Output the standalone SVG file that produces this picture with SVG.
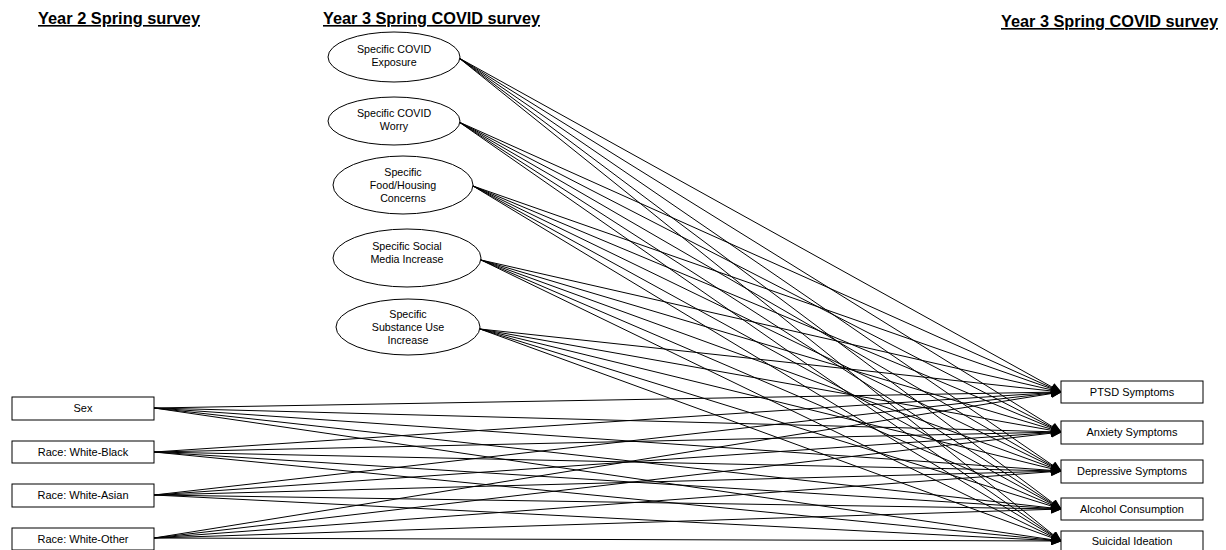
<svg xmlns="http://www.w3.org/2000/svg" width="1226" height="550" viewBox="0 0 1226 550">
<defs>
<marker id="ah" markerWidth="11" markerHeight="9" refX="10" refY="4.5" orient="auto" markerUnits="userSpaceOnUse">
<path d="M0,0 L11,4.5 L0,9 Z" fill="#000"/>
</marker>
<style>
.hdr{font-family:"Liberation Sans",Arial,sans-serif;font-size:16px;font-weight:bold;text-decoration:underline;fill:#000}
.lbl{font-family:"Liberation Sans",Arial,sans-serif;font-size:11px;fill:#000;text-anchor:middle}
.el{font-size:10.7px}
.box{fill:#fff;stroke:#000;stroke-width:1}
.ell{fill:#fff;stroke:#000;stroke-width:1}
.cn line{stroke:#000;stroke-width:1;marker-end:url(#ah)}
</style>
</defs>
<rect width="1226" height="550" fill="#fff"/>
<text class="hdr" x="38" y="24" textLength="162" lengthAdjust="spacingAndGlyphs">Year 2 Spring survey</text>
<text class="hdr" x="323" y="24" textLength="217" lengthAdjust="spacingAndGlyphs">Year 3 Spring COVID survey</text>
<text class="hdr" x="1001" y="27" textLength="217" lengthAdjust="spacingAndGlyphs">Year 3 Spring COVID survey</text>

<g id="connectors" class="cn">
<line x1="459" y1="58" x2="1061" y2="392"/>
<line x1="459" y1="58" x2="1061" y2="432"/>
<line x1="459" y1="58" x2="1061" y2="471"/>
<line x1="459" y1="58" x2="1061" y2="509"/>
<line x1="459" y1="58" x2="1061" y2="541"/>
<line x1="459" y1="122" x2="1061" y2="392"/>
<line x1="459" y1="122" x2="1061" y2="432"/>
<line x1="459" y1="122" x2="1061" y2="471"/>
<line x1="459" y1="122" x2="1061" y2="509"/>
<line x1="459" y1="122" x2="1061" y2="541"/>
<line x1="473" y1="186" x2="1061" y2="392"/>
<line x1="473" y1="186" x2="1061" y2="432"/>
<line x1="473" y1="186" x2="1061" y2="471"/>
<line x1="473" y1="186" x2="1061" y2="509"/>
<line x1="473" y1="186" x2="1061" y2="541"/>
<line x1="481" y1="260" x2="1061" y2="392"/>
<line x1="481" y1="260" x2="1061" y2="432"/>
<line x1="481" y1="260" x2="1061" y2="471"/>
<line x1="481" y1="260" x2="1061" y2="509"/>
<line x1="481" y1="260" x2="1061" y2="541"/>
<line x1="480" y1="329" x2="1061" y2="392"/>
<line x1="480" y1="329" x2="1061" y2="432"/>
<line x1="480" y1="329" x2="1061" y2="471"/>
<line x1="480" y1="329" x2="1061" y2="509"/>
<line x1="480" y1="329" x2="1061" y2="541"/>
<line x1="154" y1="408" x2="1061" y2="392"/>
<line x1="154" y1="408" x2="1061" y2="432"/>
<line x1="154" y1="408" x2="1061" y2="471"/>
<line x1="154" y1="408" x2="1061" y2="509"/>
<line x1="154" y1="408" x2="1061" y2="541"/>
<line x1="154" y1="452" x2="1061" y2="392"/>
<line x1="154" y1="452" x2="1061" y2="432"/>
<line x1="154" y1="452" x2="1061" y2="471"/>
<line x1="154" y1="452" x2="1061" y2="509"/>
<line x1="154" y1="452" x2="1061" y2="541"/>
<line x1="154" y1="495" x2="1061" y2="392"/>
<line x1="154" y1="495" x2="1061" y2="432"/>
<line x1="154" y1="495" x2="1061" y2="471"/>
<line x1="154" y1="495" x2="1061" y2="509"/>
<line x1="154" y1="495" x2="1061" y2="541"/>
<line x1="154" y1="538" x2="1061" y2="392"/>
<line x1="154" y1="538" x2="1061" y2="432"/>
<line x1="154" y1="538" x2="1061" y2="471"/>
<line x1="154" y1="538" x2="1061" y2="509"/>
<line x1="154" y1="538" x2="1061" y2="541"/>
</g>

<g id="n-exposure"><ellipse class="ell" cx="394" cy="57" rx="66" ry="25"/><text class="lbl el" x="394" y="53">Specific COVID</text><text class="lbl el" x="394" y="66">Exposure</text></g>
<g id="n-worry"><ellipse class="ell" cx="394" cy="121" rx="66" ry="24"/><text class="lbl el" x="394" y="117">Specific COVID</text><text class="lbl el" x="394" y="130">Worry</text></g>
<g id="n-food"><ellipse class="ell" cx="403" cy="185" rx="70" ry="29"/><text class="lbl el" x="403" y="176">Specific</text><text class="lbl el" x="403" y="189">Food/Housing</text><text class="lbl el" x="403" y="202">Concerns</text></g>
<g id="n-social"><ellipse class="ell" cx="407" cy="258" rx="74" ry="29"/><text class="lbl el" x="407" y="250">Specific Social</text><text class="lbl el" x="407" y="263">Media Increase</text></g>
<g id="n-substance"><ellipse class="ell" cx="408" cy="327" rx="72" ry="28"/><text class="lbl el" x="408" y="318">Specific</text><text class="lbl el" x="408" y="331">Substance Use</text><text class="lbl el" x="408" y="344">Increase</text></g>

<g id="n-sex"><rect class="box" x="12" y="397" width="142" height="23"/><text class="lbl" x="83" y="412">Sex</text></g>
<g id="n-black"><rect class="box" x="12" y="441" width="142" height="22"/><text class="lbl" x="83" y="456">Race: White-Black</text></g>
<g id="n-asian"><rect class="box" x="12" y="484" width="142" height="23"/><text class="lbl" x="83" y="499">Race: White-Asian</text></g>
<g id="n-other"><rect class="box" x="12" y="528" width="142" height="22"/><text class="lbl" x="83" y="543">Race: White-Other</text></g>

<g id="n-ptsd"><rect class="box" x="1061" y="381" width="142" height="22"/><text class="lbl" x="1132" y="396">PTSD  Symptoms</text></g>
<g id="n-anxiety"><rect class="box" x="1061" y="421" width="142" height="23"/><text class="lbl" x="1132" y="436">Anxiety Symptoms</text></g>
<g id="n-depressive"><rect class="box" x="1061" y="460" width="142" height="23"/><text class="lbl" x="1132" y="475">Depressive Symptoms</text></g>
<g id="n-alcohol"><rect class="box" x="1061" y="498" width="142" height="22"/><text class="lbl" x="1132" y="513">Alcohol Consumption</text></g>
<g id="n-suicidal"><rect class="box" x="1061" y="531" width="142" height="22"/><text class="lbl" x="1132" y="545">Suicidal Ideation</text></g>
</svg>
